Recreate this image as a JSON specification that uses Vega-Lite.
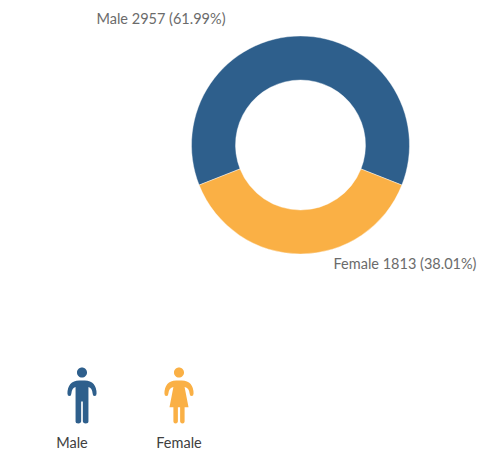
{"$schema":"https://vega.github.io/schema/vega-lite/v6.json","width":477,"height":457,"padding":0,"autosize":{"type":"fit","contains":"padding"},"background":"white","view":{"stroke":null},"data":{"values":[{"gender":"Male","count":2957,"label":"Male 2957 (61.99%)"},{"gender":"Female","count":1813,"label":"Female 1813 (38.01%)"}]},"layer":[{"mark":{"type":"arc","innerRadius":65,"outerRadius":109,"stroke":"white","strokeWidth":0.4},"encoding":{"x":{"datum":"donut","type":"nominal","axis":null,"scale":{"type":"point","padding":0,"range":[300.5,300.5]}},"y":{"datum":"donut","type":"nominal","axis":null,"scale":{"type":"point","padding":0,"range":[145,145]}},"theta":{"field":"count","type":"quantitative","stack":true,"scale":{"domain":[0,4770],"range":[-1.9474,4.3358]}},"order":{"field":"count","sort":"descending"},"color":{"field":"gender","type":"nominal","legend":null,"scale":{"domain":["Male","Female"],"range":["#2E5F8C","#FAB045"]}}}},{"mark":{"type":"text","font":"Lato","fontSize":14.5,"color":"#6b6b6b"},"encoding":{"x":{"field":"gender","type":"nominal","axis":null,"scale":{"type":"point","padding":0,"domain":["Male","Female"],"range":[161,405]}},"y":{"field":"gender","type":"nominal","axis":null,"scale":{"type":"point","padding":0,"domain":["Male","Female"],"range":[20,265]}},"text":{"field":"label"}}},{"mark":{"type":"point","filled":true,"opacity":1,"strokeWidth":0},"encoding":{"x":{"field":"gender","type":"nominal","axis":null,"scale":{"type":"point","padding":0,"domain":["Male","Female"],"range":[82,179]}},"y":{"field":"gender","type":"nominal","axis":null,"scale":{"type":"point","padding":0,"domain":["Male","Female"],"range":[395.5,395.5]}},"size":{"value":3136},"shape":{"field":"gender","type":"nominal","legend":null,"scale":{"domain":["Male","Female"],"range":["M-.21,-.54 L.1,-.54 Q.52,-.52 .52,-.07 Q.52,.02 .45,.02 Q.38,.02 .38,-.07 Q.36,-.27 .23,-.3 L.23,.93 Q.23,1 .13,1 Q.04,1 .03,.93 L.03,.21 L-.03,.21 L-.03,.93 Q-.04,1 -.13,1 Q-.23,1 -.23,.93 L-.23,-.3 Q-.36,-.27 -.38,-.07 Q-.38,.02 -.45,.02 Q-.52,.02 -.52,-.07 Q-.52,-.52 -.1,-.54 Z M-.18,-.82 A.18,.18 0 1 1 .18,-.82 A.18,.18 0 1 1 -.18,-.82 Z","M-.21,-.54 L.1,-.54 Q.52,-.52 .52,-.07 Q.52,.02 .45,.02 Q.38,.02 .38,-.07 Q.36,-.27 .2,-.3 L.34,.42 L.2,.42 L.2,.93 Q.2,1 .12,1 Q.05,1 .04,.93 L.04,.42 L-.04,.42 L-.04,.93 Q-.05,1 -.12,1 Q-.2,1 -.2,.93 L-.2,.42 L-.34,.42 L-.2,-.3 Q-.36,-.27 -.38,-.07 Q-.38,.02 -.45,.02 Q-.52,.02 -.52,-.07 Q-.52,-.52 -.1,-.54 Z M-.18,-.82 A.18,.18 0 1 1 .18,-.82 A.18,.18 0 1 1 -.18,-.82 Z"]}},"color":{"field":"gender","type":"nominal","legend":null,"scale":{"domain":["Male","Female"],"range":["#2E5F8C","#FAB045"]}}}},{"mark":{"type":"text","font":"Lato","fontSize":14.5,"color":"#404040"},"encoding":{"x":{"field":"gender","type":"nominal","axis":null,"scale":{"type":"point","padding":0,"domain":["Male","Female"],"range":[72,179]}},"y":{"field":"gender","type":"nominal","axis":null,"scale":{"type":"point","padding":0,"domain":["Male","Female"],"range":[444,444]}},"text":{"field":"gender"}}}],"resolve":{"scale":{"x":"independent","y":"independent","theta":"independent","shape":"independent"}}}
